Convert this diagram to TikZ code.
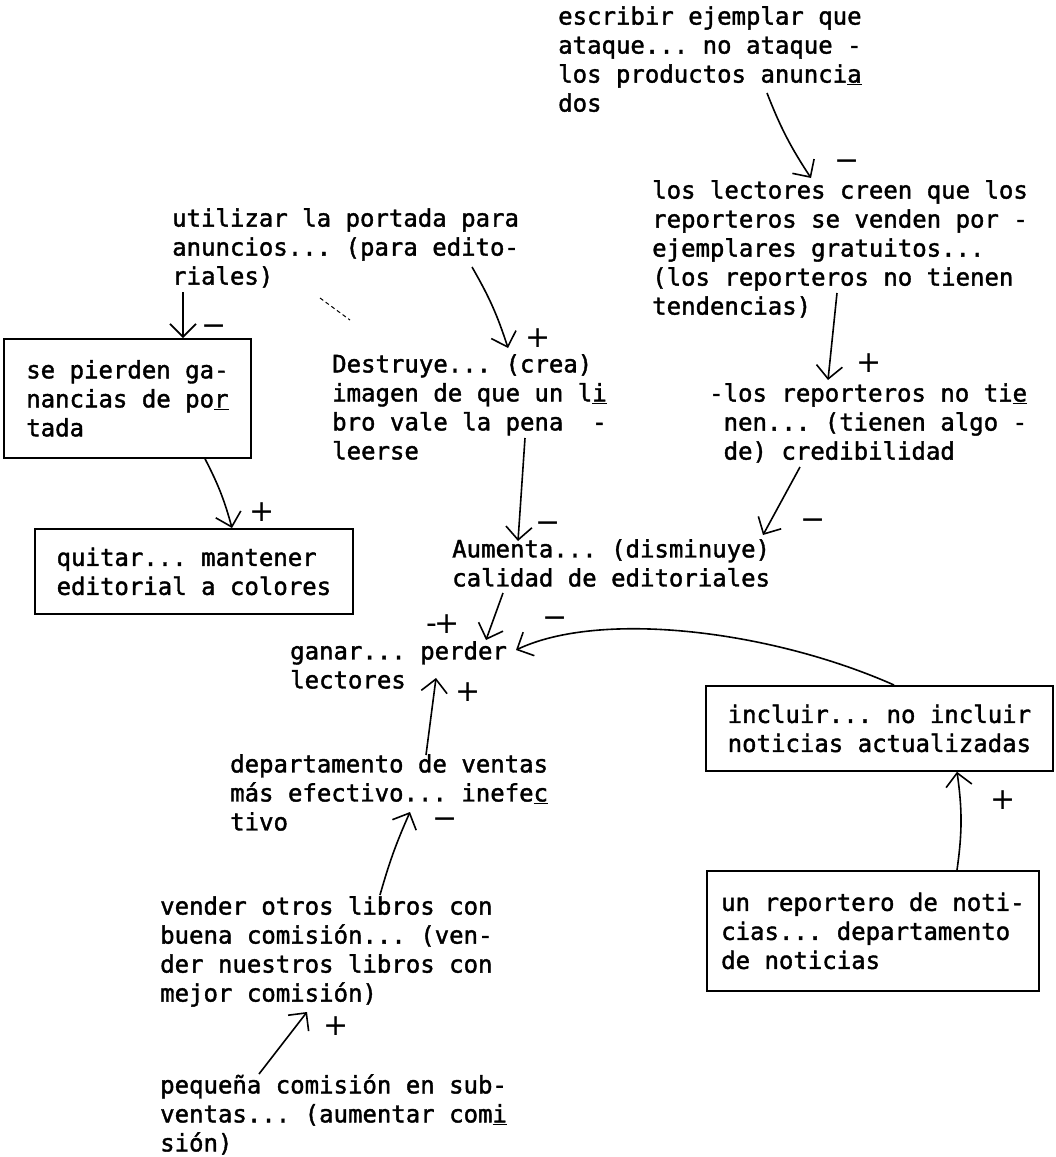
\documentclass[tikz,border=0pt]{standalone}
\usepackage{fontspec}
\setmonofont{DejaVu Sans Mono}[FakeBold=1.6]
\newfontfamily\signfont{DejaVu Sans}
\usetikzlibrary{arrows.meta}
\begin{document}
\begin{tikzpicture}[x=1pt, y=-1pt,
  note/.style={font=\ttfamily\fontsize{24}{29}\selectfont, align=left, anchor=north west, inner sep=0pt, execute at begin node=\strut},
  framed/.style={draw, line width=1.8pt, font=\ttfamily\fontsize{24}{29}\selectfont, align=left, anchor=north west, inner sep=0pt},
  sgn/.style={font=\signfont\fontsize{30}{30}\selectfont, inner sep=0pt},
  link/.style={line width=1.6pt, -{Straight Barb[length=13pt, width=26pt, line width=1.6pt]}}]

\useasboundingbox (0,0) rectangle (1056,1157);
\fill[white] (0,0) rectangle (1056,1157);

\node[note] (ejemplar) at (558,6) {escribir ejemplar que\\ataque... no ataque -\\los productos anunci\underline{a}\\dos};
\node[note] (lectores) at (652,180) {los lectores creen que los\\reporteros se venden por -\\ejemplares gratuitos...\\(los reporteros no tienen\\tendencias)};
\node[note] (portada) at (172,208) {utilizar la portada para\\anuncios... (para edito-\\riales)};
\node[framed, minimum width=247pt, minimum height=119pt] (pierden) at (3,338) {se pierden ga-\\nancias de po\underline{r}\\tada};
\node[note] (destruye) at (332,354) {Destruye... (crea)\\imagen de que un l\underline{i}\\bro vale la pena\ \ -\\leerse};
\node[note] (credib) at (709,383) {-los reporteros no ti\underline{e}\\\phantom{-}nen... (tienen algo -\\\phantom{-}de) credibilidad};
\node[framed, minimum width=318pt, minimum height=85pt] (colores) at (34,528) {quitar... mantener\\editorial a colores};
\node[note] (calidad) at (452,539) {Aumenta... (disminuye)\\calidad de editoriales};
\node[note] (ganar) at (290,641) {ganar... perder\\lectores};
\node[framed, minimum width=347pt, minimum height=85pt] (incluir) at (705,685) {incluir... no incluir\\noticias actualizadas};
\node[framed, minimum width=332pt, minimum height=120pt] (noticias) at (706,870) {un reportero de noti-\\cias... departamento\\de noticias};
\node[note] (ventas) at (230,754) {departamento de ventas\\más efectivo... inefe\underline{c}\\tivo};
\node[note] (vender) at (160,896) {vender otros libros con\\buena comisión... (ven-\\der nuestros libros con\\mejor comisión)};
\node[note] (pequena) at (160,1074) {pequeña comisión en sub-\\ventas... (aumentar com\underline{i}\\sión)};

\draw[line width=1pt, dash pattern=on 4pt off 3pt] (320,298) -- (350,320);

\coordinate (p1) at (767,93);
\coordinate (p2) at (811,178);
\draw[link] (p1) to[bend right=6] (p2);
\node[sgn] (s1) at (847,165) {−};

\coordinate (p3) at (183,292);
\draw[link] (p3) -- (p3 |- pierden.north);
\node[sgn] (s2) at (214,330) {−};

\coordinate (p4) at (472,267);
\coordinate (p5) at (508,348);
\draw[link] (p4) to[bend left=6] (p5);
\node[sgn] (s3) at (538,338) {+};

\coordinate (p6) at (837,293);
\coordinate (p7) at (828,380);
\draw[link] (p6) -- (p7);
\node[sgn] (s4) at (869,363) {+};

\coordinate (p8) at (205,0);
\coordinate (p9) at (232,0);
\draw[link] (p8 |- pierden.south) to[bend left=6] (p9 |- colores.north);
\node[sgn] (s5) at (262,512) {+};

\coordinate (p10) at (525,438);
\coordinate (p11) at (518,541);
\draw[link] (p10) -- (p11);
\node[sgn] (s6) at (548,527) {−};

\coordinate (p12) at (800,467);
\coordinate (p13) at (763,535);
\draw[link] (p12) -- (p13);
\node[sgn] (s7) at (813,524) {−};

\coordinate (p14) at (503,593);
\coordinate (p15) at (486,640);
\draw[link] (p14) -- (p15);
\node[sgn] (s8) at (443,624) {-\kern-3pt+};

\coordinate (p16) at (894,0);
\coordinate (p17) at (516,650);
\draw[link] (p16 |- incluir.north) .. controls (770,630) and (600,610) .. (p17);
\node[sgn] (s9) at (555,622) {−};

\coordinate (p18) at (957,0);
\draw[link] (p18 |- noticias.north) to[bend right=8] (p18 |- incluir.south);
\node[sgn] (s10) at (1003,800) {+};

\coordinate (p19) at (426,755);
\coordinate (p20) at (436,678);
\draw[link] (p19) -- (p20);
\node[sgn] (s11) at (468,692) {+};

\coordinate (p21) at (380,895);
\coordinate (p22) at (410,812);
\draw[link] (p21) to[bend left=4] (p22);
\node[sgn] (s12) at (445,823) {−};

\coordinate (p23) at (259,1074);
\coordinate (p24) at (307,1012);
\draw[link] (p23) -- (p24);
\node[sgn] (s13) at (336,1026) {+};
\end{tikzpicture}
\end{document}
